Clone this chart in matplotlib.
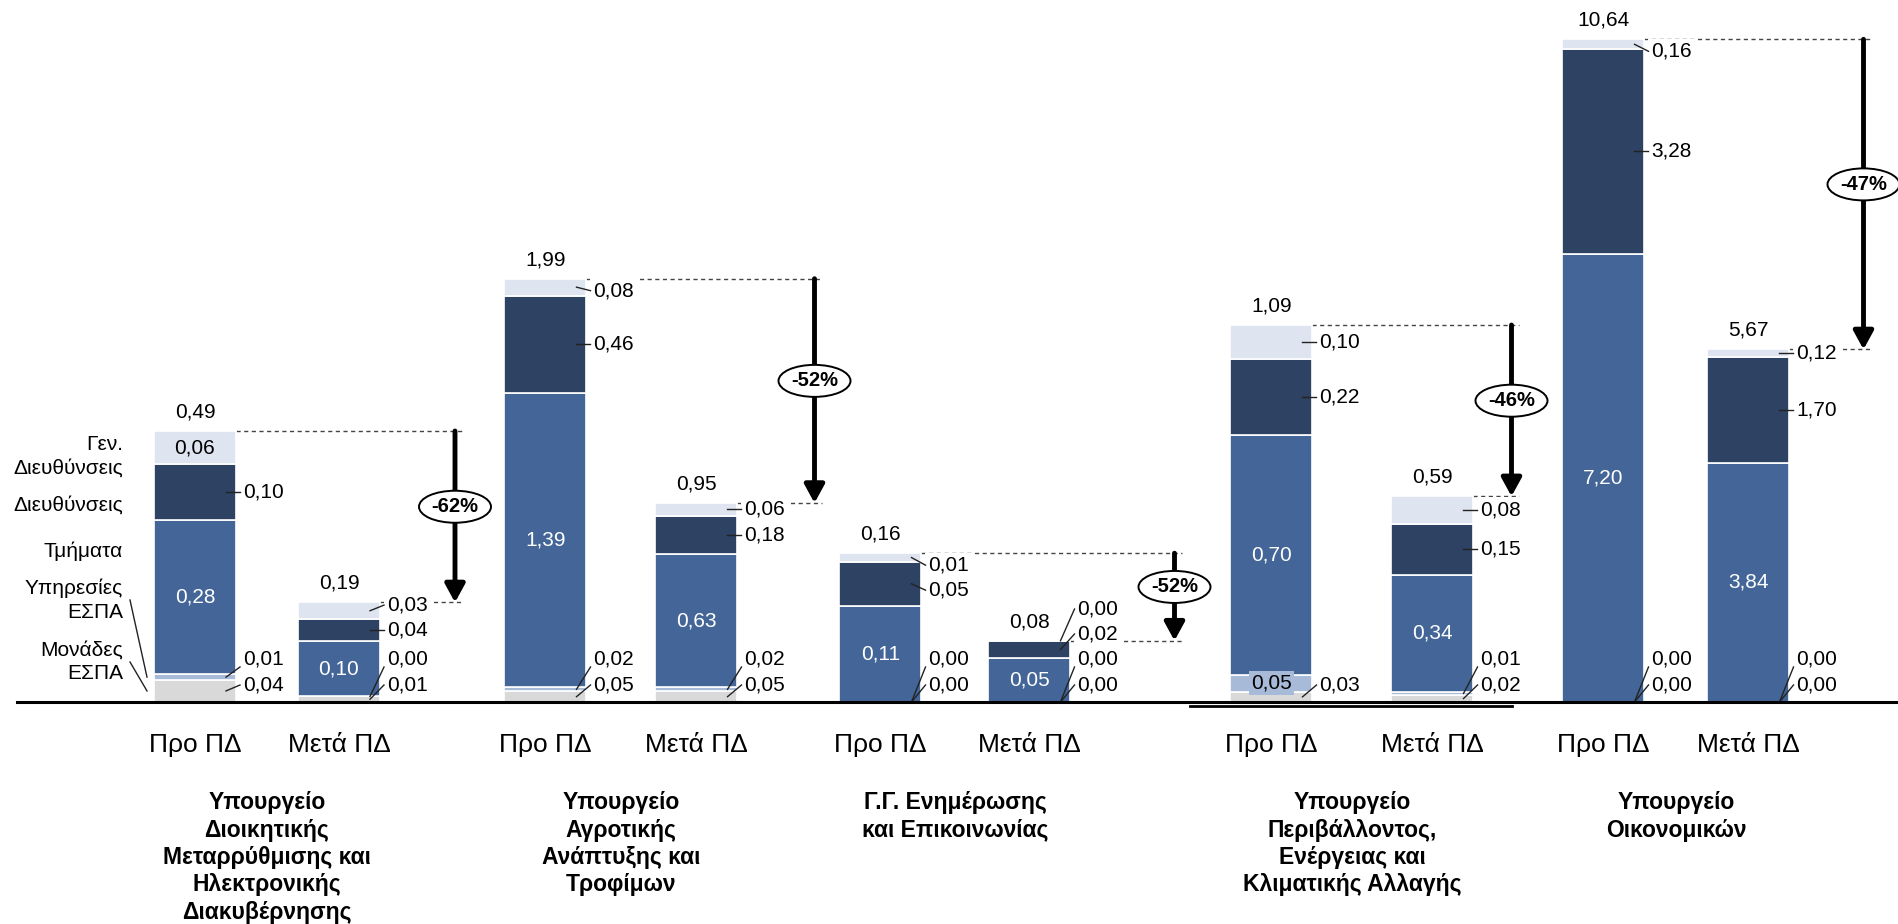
import numpy as np
import matplotlib
matplotlib.use("Agg")
import matplotlib.pyplot as plt
from matplotlib.patches import Ellipse
from matplotlib.lines import Line2D

plt.rcParams["font.family"] = ["Liberation Sans", "DejaVu Sans"]

# segments, bottom -> top
segments = ["Μονάδες ΕΣΠΑ", "Υπηρεσίες ΕΣΠΑ", "Τμήματα", "Διευθύνσεις", "Γεν. Διευθύνσεις"]
bar_names = ["Προ ΠΔ", "Μετά ΠΔ"]
ministries = [
    "Υπουργείο\nΔιοικητικής\nΜεταρρύθμισης και\nΗλεκτρονικής\nΔιακυβέρνησης",
    "Υπουργείο\nΑγροτικής\nΑνάπτυξης και\nΤροφίμων",
    "Γ.Γ. Ενημέρωσης\nκαι Επικοινωνίας",
    "Υπουργείο\nΠεριβάλλοντος,\nΕνέργειας και\nΚλιματικής Αλλαγής",
    "Υπουργείο\nΟικονομικών",
]
pre_values = [
    [0.04, 0.01, 0.28, 0.10, 0.06],
    [0.05, 0.02, 1.39, 0.46, 0.08],
    [0.00, 0.00, 0.11, 0.05, 0.01],
    [0.03, 0.05, 0.70, 0.22, 0.10],
    [0.00, 0.00, 7.20, 3.28, 0.16],
]
post_values = [
    [0.01, 0.00, 0.10, 0.04, 0.03],
    [0.05, 0.02, 0.63, 0.18, 0.06],
    [0.00, 0.00, 0.05, 0.02, 0.00],
    [0.02, 0.01, 0.34, 0.15, 0.08],
    [0.00, 0.00, 3.84, 1.70, 0.12],
]
pre_totals = [0.49, 1.99, 0.16, 1.09, 10.64]
post_totals = [0.19, 0.95, 0.08, 0.59, 5.67]
changes = ["-62%", "-52%", "-52%", "-46%", "-47%"]

# layout (pixels of the 1899x924 canvas)
W, H = 1899, 924
BASE = 702
GROUP_X = [267, 621, 955, 1352, 1676]
PAIR_GAP = [144, 151, 149, 161, 145]
BAR_W = 82
FILL = [0.386, 0.603, 0.212, 0.537, 0.944]   # share of the plot height taken by the Προ bar
ARROW_DX = [116, 118, 145, 79, 115]
COLORS = ["#d9d9d9", "#a7bad8", "#436597", "#2e4263", "#dfe5f0"]
INSIDE = {(0, 0, 4), (3, 0, 1)}
FS = 15


def fmt(v):
    return f"{v:.2f}".replace(".", ",")


fig = plt.figure(figsize=(W / 100, H / 100), dpi=100)

for g in range(len(ministries)):
    ax = fig.add_axes([0, (H - BASE) / H, 1, BASE / H])
    ymax = sum(pre_values[g]) / FILL[g]
    ax.set_xlim(0, W)
    ax.set_ylim(0, ymax)
    ax.axis("off")
    k = ymax / BASE  # data units per pixel

    tops = []
    rights = []
    for b, (vals, total) in enumerate([(pre_values[g], pre_totals[g]), (post_values[g], post_totals[g])]):
        vals = np.array(vals)
        x = GROUP_X[g] + (b - 0.5) * PAIR_GAP[g]
        bottoms = np.concatenate([[0], np.cumsum(vals)[:-1]])
        ax.bar(x, vals, BAR_W, bottom=bottoms, color=COLORS, edgecolor="white", linewidth=1.2, zorder=2)
        top = vals.sum()
        tops.append(top)
        right = x + BAR_W / 2
        rights.append(right)
        ax.text(x, top + 19 * k, fmt(total), ha="center", va="center", fontsize=FS, zorder=5)

        centers = bottoms + vals / 2
        # blue segment always labelled inside
        ax.text(x, centers[2], fmt(vals[2]), ha="center", va="center", fontsize=FS, color="white", zorder=5)

        # right-hand labels, heights in px above the baseline
        pos = {}
        prev = None
        for s in [0, 1, 3, 4]:
            if (g, b, s) in INSIDE:
                box = None
                if s == 1:
                    box = dict(boxstyle="square,pad=0.12", fc=COLORS[1], ec="none")
                ax.text(x, centers[s], fmt(vals[s]), ha="center", va="center", fontsize=FS,
                        color="black", bbox=box, zorder=5)
                continue
            cpx = centers[s] / k
            if s == 0:
                h, end = 17, 17
            elif s == 1:
                h, end = 43, 35
            else:
                h = cpx if prev is None else max(cpx, prev + 25)
                end = h
            pos[s] = [h, end]
            prev = h
        # on the first bar the top label keeps clear of the bar top
        if b == 0 and 4 in pos:
            lim = top / k - 12
            if pos[4][0] > lim:
                pos[4] = [lim, lim]
                if 3 in pos and pos[3][0] > lim - 25:
                    pos[3] = [lim - 25, lim - 25]
        for s, (h, end) in pos.items():
            ax.text(right + 7, h * k, fmt(vals[s]), ha="left", va="center", fontsize=FS, zorder=5,
                    bbox=dict(boxstyle="square,pad=0.15", fc="white", ec="none"))
            ax.plot([right - 10, right + 4], [centers[s], end * k], color="#222222", lw=1, zorder=6)

    # change arrow with the dashed guides
    post_x = GROUP_X[g] + 0.5 * PAIR_GAP[g]
    axx = post_x + ARROW_DX[g]
    for r, t in zip(rights, tops):
        ax.plot([r, axx + 8], [t, t], color="#444444", lw=1, ls=(0, (3, 2.5)), zorder=1)
    ax.annotate("", xy=(axx, tops[1]), xytext=(axx, tops[0]),
                arrowprops=dict(arrowstyle="-|>,head_length=0.55,head_width=0.3", mutation_scale=20,
                                lw=3.5, color="black", shrinkA=0, shrinkB=0), zorder=3)
    mid = (tops[0] + tops[1]) / 2 + 10 * k
    ax.add_patch(Ellipse((axx, mid), 72, 32 * k, fc="white", ec="black", lw=1.4, zorder=4))
    ax.text(axx, mid, changes[g], ha="center", va="center", fontsize=14.5, fontweight="bold", zorder=5)

    # category labels and ministry names
    for b, name in enumerate(bar_names):
        x = GROUP_X[g] + (b - 0.5) * PAIR_GAP[g]
        ax.text(x, -43 * k, name, ha="center", va="center", fontsize=19, clip_on=False)
    ax.text(GROUP_X[g], -89 * k, ministries[g], ha="center", va="top", fontsize=16.5,
            fontweight="bold", linespacing=1.25, clip_on=False)

    if g == 0:
        # legend of the segment names, next to the first bar
        lx = 123
        names = ["Γεν.\nΔιευθύνσεις", "Διευθύνσεις", "Τμήματα", "Υπηρεσίες\nΕΣΠΑ", "Μονάδες\nΕΣΠΑ"]
        ys = [456, 505, 551, 600, 662]
        for name, y in zip(names, ys):
            ax.text(lx, (BASE - y) * k, name, ha="right", va="center", ma="right",
                    fontsize=FS, linespacing=1.3)
        pre_x = GROUP_X[0] - 0.5 * PAIR_GAP[0]
        c = np.concatenate([[0], np.cumsum(pre_values[0])[:-1]]) + np.array(pre_values[0]) / 2
        for s, y in [(1, 600), (0, 662)]:
            ax.plot([130, pre_x - BAR_W / 2 - 7], [(BASE - y) * k, c[s]], color="#222222", lw=1)

fig.add_artist(Line2D([17 / W, 1], [1 - BASE / H] * 2, color="black", lw=2.2))
fig.add_artist(Line2D([1190 / W, 1512 / W], [1 - (BASE + 4) / H] * 2, color="black", lw=2))

fig.savefig("out.png", dpi=100)
